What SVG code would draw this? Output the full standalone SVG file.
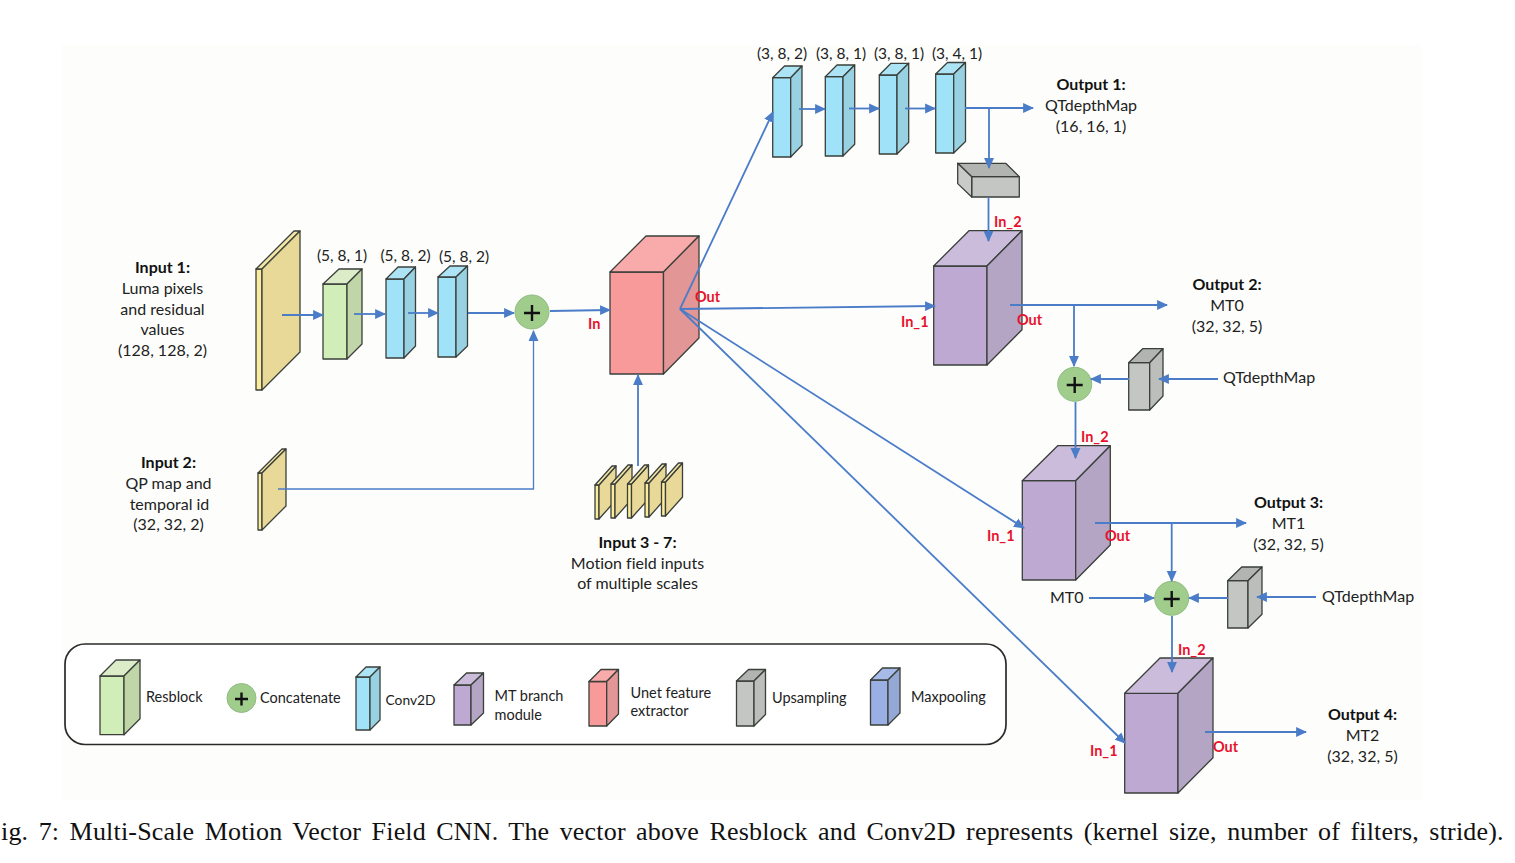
<svg xmlns="http://www.w3.org/2000/svg" width="1515" height="863" viewBox="0 0 1515 863">
<style>
text{font-family:Lato,"Noto Sans",sans-serif;font-size:16px;fill:#222;font-variant-ligatures:none}
.m{text-anchor:middle}
.d{font-size:15.500px}
.lg{font-size:14.500px}
.b{font-weight:700;fill:#111}
.r{fill:#e8112d;font-weight:700;font-size:14.500px}
.cap{font-family:"Liberation Serif",serif;font-size:26px;fill:#111;word-spacing:3.700px;letter-spacing:.18px}
.e{stroke:#3a3f3a;stroke-width:1.3;stroke-linejoin:round}
.gF{fill:#d2eeb8}.gT{fill:#dcecc8}.gS{fill:#c0d6a8}
.cF{fill:#a0e2f8}.cT{fill:#ade4f5}.cS{fill:#98d2e2}
.yF{fill:#fbeb9c}.yT{fill:#f3e6a4}.yS{fill:#e8d898}
.pF{fill:#bea9d3}.pT{fill:#cbbcdc}.pS{fill:#b5a5c5}
.uF{fill:#f89a9a}.uT{fill:#f9aaaa}.uS{fill:#e29696}
.hF{fill:#c4c6c3}.hT{fill:#b2b4b1}.hS{fill:#bcbebb}
.bF{fill:#9ab0e4}.bT{fill:#a6bbe8}.bS{fill:#94a8d6}
.add{fill:#a0cc8c;stroke:#8fbc80;stroke-width:1}
.plus{stroke:#111;stroke-width:2.4;fill:none}
.l{fill:none;stroke:#4a7cc8;stroke-width:1.800}
.la{marker-end:url(#ah)}
</style>
<defs>
<marker id="ah" markerUnits="userSpaceOnUse" viewBox="0 0 10 10" refX="9" refY="5" markerWidth="11" markerHeight="11" orient="auto"><path d="M0 0.500L10 5L0 9.500z" fill="#4a7cc8"/></marker>
</defs>
<rect x="62" y="45" width="1360" height="755" fill="#fdfefc"/>

<g id="input1">
<path class="e yF" d="M256 269h6v121h-6z"/><path class="e yT" d="M256 269l38-38h6l-38 38z"/><path class="e" fill="#e9d998" d="M262 269l38-38v121l-38 38z"/>
</g>
<g id="input2">
<path class="e yF" d="M258 473h4v57h-4z"/><path class="e yT" d="M258 473l24-24h4l-24 24z"/><path class="e" fill="#e9d998" d="M262 473l24-24v57l-24 24z"/>
</g>
<g id="inputs3to7">
<path class="e yF" d="M595 485h4v34h-4z"/><path class="e" fill="#e9d998" d="M599 485l17-19v34l-17 19z"/><path class="e yT" d="M595 485l17-19h4l-17 19z"/>
<path class="e yF" d="M611 484h4v34h-4z"/><path class="e" fill="#e9d998" d="M615 484l17-19v34l-17 19z"/><path class="e yT" d="M611 484l17-19h4l-17 19z"/>
<path class="e yF" d="M627.500 484h4v34h-4z"/><path class="e" fill="#e9d998" d="M631.500 484l17-19v34l-17 19z"/><path class="e yT" d="M627.500 484l17-19h4l-17 19z"/>
<path class="e yF" d="M645 483h4v34h-4z"/><path class="e" fill="#e9d998" d="M649 483l17-19v34l-17 19z"/><path class="e yT" d="M645 483l17-19h4l-17 19z"/>
<path class="e yF" d="M661.500 482h4v34h-4z"/><path class="e" fill="#e9d998" d="M665.500 482l17-19v34l-17 19z"/><path class="e yT" d="M661.500 482l17-19h4l-17 19z"/>
</g>
<g id="resblock1">
<path class="e gF" d="M323 284h24v75h-24z"/><path class="e gT" d="M323 284l16-15h23l-15 15z"/><path class="e gS" d="M347 284l15-15v75l-15 15z"/>
</g>
<g id="conv1">
<path class="e cF" d="M386 279h18v79h-18z"/><path class="e cT" d="M386 279l12-12h17.500l-11.500 12z"/><path class="e cS" d="M404 279l11.500-12v79l-11.500 12z"/>
</g>
<g id="conv2">
<path class="e cF" d="M438 277h18v80h-18z"/><path class="e cT" d="M438 277l12-11h17.500l-11.500 11z"/><path class="e cS" d="M456 277l11.500-11v80l-11.500 11z"/>
</g>
<g id="concat1"><circle class="add" cx="532" cy="312" r="17"/><path class="plus" d="M524 313h16M532 305v16"/></g>
<g id="unet">
<path class="e uF" d="M610 272h53.500v102h-53.500z"/><path class="e uT" d="M610 272l36-36h53l-35.500 36z"/><path class="e uS" d="M663.500 272l35.500-36v102l-35.500 36z"/>
</g>
<g id="conv3">
<path class="e cF" d="M772.700 77.700h18v79.300h-18z"/><path class="e cT" d="M772.700 77.700l11.800-11.700h17.500l-11.300 11.700z"/><path class="e cS" d="M790.700 77.700l11.300-11.700v79.300l-11.300 11.700z"/>
</g>
<g id="conv4">
<path class="e cF" d="M825.300 76.700h17.700v79.300h-17.700z"/><path class="e cT" d="M825.300 76.700l11.700-11.700h17.700l-11.700 11.700z"/><path class="e cS" d="M843 76.700l11.700-11.700v79.300l-11.700 11.700z"/>
</g>
<g id="conv5">
<path class="e cF" d="M879.300 75h17.700v79h-17.700z"/><path class="e cT" d="M879.300 75l11.700-11.700h17.700l-11.700 11.700z"/><path class="e cS" d="M897 75l11.700-11.700v79l-11.700 11.700z"/>
</g>
<g id="conv6">
<path class="e cF" d="M935.700 74h18v79h-18z"/><path class="e cT" d="M935.700 74l11.800-11.500h18l-11.800 11.500z"/><path class="e cS" d="M953.700 74l11.800-11.500v79l-11.800 11.500z"/>
</g>
<g id="upsample1">
<path class="e hF" d="M971.700 176.700h47.600v20.300h-47.600z"/><path class="e hT" d="M971.700 176.700l-14-13.400h48l13.600 13.400z"/><path class="e" fill="#c9cbc8" d="M971.700 176.700l-14-13.400v20.300l14 13.400z"/>
</g>
<g id="mt1">
<path class="e pF" d="M933.700 266h53.300v99h-53.300z"/><path class="e pT" d="M933.700 266l35.300-35.300h53l-35 35.300z"/><path class="e pS" d="M987 266l35-35.300v99l-35 35.300z"/>
</g>
<g id="concat2"><circle class="add" cx="1074.700" cy="384.300" r="17"/><path class="plus" d="M1066.700 385h16M1074.700 377v16"/></g>
<g id="upsample2">
<path class="e hF" d="M1128.700 362.700h21v47.300h-21z"/><path class="e hT" d="M1128.700 362.700l14-14h20.300l-13.300 14z"/><path class="e hS" d="M1149.700 362.700l13.300-14v47.300l-13.300 14z"/>
</g>
<g id="mt2">
<path class="e pF" d="M1022.300 480.700h53.400v99.300h-53.400z"/><path class="e pT" d="M1022.300 480.700l35.400-35h52.600l-34.600 35z"/><path class="e pS" d="M1075.700 480.700l34.600-35v99.300l-34.600 35z"/>
</g>
<g id="concat3"><circle class="add" cx="1171.700" cy="598.300" r="17"/><path class="plus" d="M1163.700 599h16M1171.700 591v16"/></g>
<g id="upsample3">
<path class="e hF" d="M1227.700 580.700h20.300v47.300h-20.300z"/><path class="e hT" d="M1227.700 580.700l14-13.700h20.300l-14 13.700z"/><path class="e hS" d="M1248 580.700l14-13.700v47.300l-14 13.700z"/>
</g>
<g id="mt3">
<path class="e pF" d="M1124.700 693.300h53.300v99.700h-53.300z"/><path class="e pT" d="M1124.700 693.300l35.300-35.300h53l-35 35.300z"/><path class="e pS" d="M1178 693.300l35-35.300v99.700l-35 35.300z"/>
</g>

<g id="connectors">
<path class="l la" d="M282 315H323"/>
<path class="l la" d="M354 314H385"/>
<path class="l la" d="M408 313H438"/>
<path class="l la" d="M468 313H514"/>
<path class="l la" d="M550 311L610 310"/>
<path class="l la" style="stroke-width:1.300" d="M278 489H533.500V331"/>
<path class="l la" d="M638 466V375"/>
<path class="l la" d="M680 309L773 112"/>
<path class="l la" d="M680 309L935 306"/>
<path class="l la" d="M680 309L1024 528"/>
<path class="l la" d="M680 309L1125 743"/>
<path class="l la" d="M799 109H825"/>
<path class="l la" d="M849 108.500H879"/>
<path class="l la" d="M905 108.500H935"/>
<path class="l la" d="M965 108H1033"/>
<path class="l la" d="M989 108V168"/>
<path class="l la" d="M988.500 197V241"/>
<path class="l la" d="M1010 305H1167"/>
<path class="l la" d="M1074 305V366"/>
<path class="l la" d="M1218 379H1159"/>
<path class="l la" d="M1129 379H1091"/>
<path class="l la" d="M1075.500 402V458"/>
<path class="l la" d="M1095 523H1246"/>
<path class="l la" d="M1171.700 523V581"/>
<path class="l la" d="M1089 598H1154"/>
<path class="l la" d="M1228 598H1189"/>
<path class="l la" d="M1316 597H1257"/>
<path class="l la" d="M1172 616V672"/>
<path class="l la" d="M1205 732H1306"/>
</g>

<g id="legend">
<rect x="65" y="644" width="941" height="100.500" rx="20" fill="#fff" stroke="#2a2a2a" stroke-width="1.700"/>
<path class="e gF" d="M100 676h24v58.700h-24z"/><path class="e gT" d="M100 676l16-16h24l-16 16z"/><path class="e gS" d="M124 676l16-16v58.700l-16 16z"/>
<circle class="add" cx="241.500" cy="698" r="14.500"/><path class="plus" d="M235 699h13M241.500 692.500v13"/>
<path class="e cF" d="M356 677h14v53h-14z"/><path class="e cT" d="M356 677l10-10h14l-10 10z"/><path class="e cS" d="M370 677l10-10v53l-10 10z"/>
<path class="e pF" d="M454 685h17v40h-17z"/><path class="e pT" d="M454 685l12.500-12h17l-12.500 12z"/><path class="e pS" d="M471 685l12.500-12v40l-12.500 12z"/>
<path class="e uF" d="M589 681.500h17.700v44.500h-17.700z"/><path class="e uT" d="M589 681.500l12-12h17.500l-11.800 12z"/><path class="e uS" d="M606.700 681.500l11.800-12v44.500l-11.800 12z"/>
<path class="e hF" d="M736.500 681h17.500v45h-17.500z"/><path class="e hT" d="M736.500 681l12-11.500h17l-11.500 11.500z"/><path class="e hS" d="M754 681l11.500-11.500v45l-11.500 11.500z"/>
<path class="e bF" d="M870.500 680h17.500v45h-17.500z"/><path class="e bT" d="M870.500 680l12-12h17.500l-12 12z"/><path class="e bS" d="M888 680l12-12v45l-12 12z"/>
<text class="lg" x="146" y="702">Resblock</text>
<text class="lg" x="260" y="703">Concatenate</text>
<text class="lg" style="font-size:13.800px" x="385.500" y="705">Conv2D</text>
<text class="lg" x="494.500" y="701">MT branch</text>
<text class="lg" x="494.500" y="720">module</text>
<text class="lg" x="630.500" y="698">Unet feature</text>
<text class="lg" x="630.500" y="716">extractor</text>
<text class="lg" x="772" y="703">Upsampling</text>
<text class="lg" x="911" y="702">Maxpooling</text>
</g>

<g id="labels">
<text class="m b" x="162.500" y="273">Input 1:</text>
<text class="m" x="162.500" y="294">Luma pixels</text>
<text class="m" x="162.500" y="314.500">and residual</text>
<text class="m" x="162.500" y="335">values</text>
<text class="m" x="162.500" y="356">(128, 128, 2)</text>
<text class="m b" x="168.500" y="468">Input 2:</text>
<text class="m" x="168.500" y="489">QP map and</text>
<text class="m" x="169.500" y="510">temporal id</text>
<text class="m" x="168.500" y="530">(32, 32, 2)</text>
<text class="m b" x="637.500" y="548">Input 3 - 7:</text>
<text class="m" x="637.500" y="569">Motion field inputs</text>
<text class="m" x="637.500" y="589">of multiple scales</text>
<text class="m d" x="342" y="261">(5, 8, 1)</text>
<text class="m d" x="405.500" y="261">(5, 8, 2)</text>
<text class="m d" x="464" y="262">(5, 8, 2)</text>
<text class="m d" x="782" y="59">(3, 8, 2)</text>
<text class="m d" x="841" y="59">(3, 8, 1)</text>
<text class="m d" x="899" y="59">(3, 8, 1)</text>
<text class="m d" x="957" y="59">(3, 4, 1)</text>
<text class="m b" x="1091" y="90">Output 1:</text>
<text class="m" x="1091" y="111">QTdepthMap</text>
<text class="m" x="1091" y="132">(16, 16, 1)</text>
<text class="m b" x="1227" y="290">Output 2:</text>
<text class="m" x="1227" y="311">MT0</text>
<text class="m" x="1227" y="332">(32, 32, 5)</text>
<text x="1223" y="383">QTdepthMap</text>
<text class="m b" x="1288.500" y="508">Output 3:</text>
<text class="m" x="1288.500" y="529">MT1</text>
<text class="m" x="1288.500" y="550">(32, 32, 5)</text>
<text x="1050" y="603">MT0</text>
<text x="1322" y="602">QTdepthMap</text>
<text class="m b" x="1362.500" y="720">Output 4:</text>
<text class="m" x="1362.500" y="741">MT2</text>
<text class="m" x="1362.500" y="762">(32, 32, 5)</text>
<text class="r" x="588" y="329">In</text>
<text class="r" x="695" y="302">Out</text>
<text class="r" x="994" y="227">In_2</text>
<text class="r" x="901" y="327">In_1</text>
<text class="r" x="1017" y="325">Out</text>
<text class="r" x="1081" y="442">In_2</text>
<text class="r" x="987" y="541">In_1</text>
<text class="r" x="1105" y="541">Out</text>
<text class="r" x="1178" y="655">In_2</text>
<text class="r" x="1090" y="756">In_1</text>
<text class="r" x="1213" y="752">Out</text>
</g>
<text class="cap" x="1" y="840">ig. 7: Multi-Scale Motion Vector Field CNN. The vector above Resblock and Conv2D represents (kernel size, number of filters, stride).</text>
</svg>
